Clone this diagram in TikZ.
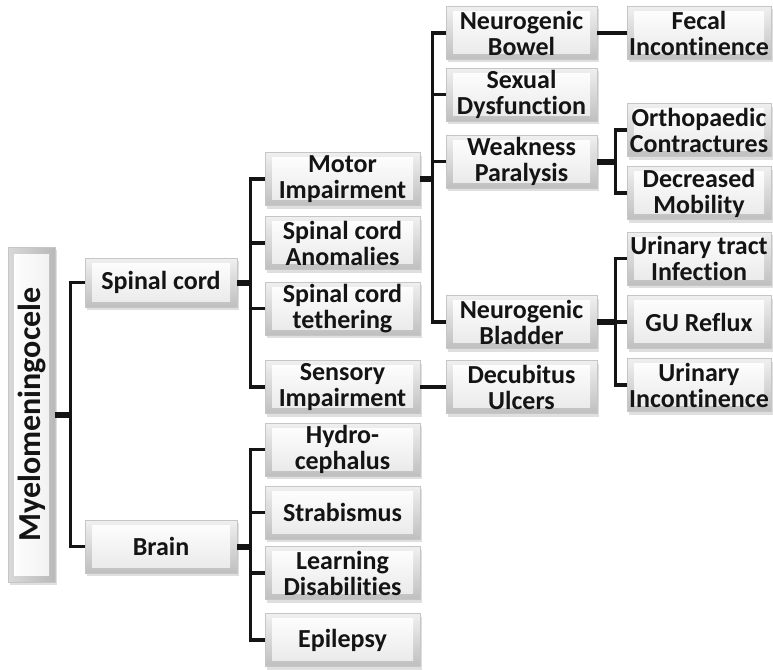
\documentclass[tikz,border=0pt]{standalone}
\usepackage{fontspec}
\setmainfont{Carlito}[Ligatures=NoCommon]
\usetikzlibrary{positioning,shadows,calc}
\definecolor{mmink}{RGB}{20,20,20}
\tikzset{
  bevbox/.style={rectangle,draw=gray!45,line width=0.5pt,
                 top color=gray!12,bottom color=gray!50,
                 minimum width=155pt,minimum height=53pt,inner sep=1pt,
                 font=\fontsize{26}{26}\selectfont\bfseries,align=center,text=mmink,
                 drop shadow={shadow xshift=2pt,shadow yshift=-3pt,opacity=0.25},
                 path picture={\shade[top color=white,bottom color=gray!18]
                   ([shift={(7pt,6pt)}]path picture bounding box.south west) rectangle
                   ([shift={(-7pt,-5pt)}]path picture bounding box.north east);}},
  rootbox/.style={rectangle,draw=gray!45,line width=0.5pt,
                 left color=gray!30,right color=gray!55,
                 minimum width=47pt,minimum height=335pt,inner sep=1pt,
                 font=\fontsize{32}{32}\selectfont\bfseries,text=mmink,
                 drop shadow={shadow xshift=2pt,shadow yshift=-3pt,opacity=0.25},
                 path picture={\shade[left color=white,right color=gray!12]
                   ([shift={(6pt,7pt)}]path picture bounding box.south west) rectangle
                   ([shift={(-6pt,-7pt)}]path picture bounding box.north east);}},
  conn/.style={line width=3.2pt,mmink},
  stub/.style={line width=6pt,mmink},
}
\begin{document}
\begin{tikzpicture}[x=1pt,y=-1pt]
  \fill[white] (0,0) rectangle (773,669);
  \useasboundingbox (0,0) rectangle (773,669);

  % root and first level
  \node[rootbox] (myelo) at (31.5,414.5) {\rotatebox{90}{Myelomeningocele}};
  \node[bevbox,minimum width=152pt,minimum height=49pt] (spinal) at (161,282.5) {Spinal cord};
  \node[bevbox,minimum width=152pt] (brain) at (161,546.5) {Brain};

  % second level
  \node[bevbox] (motor)   at (342.5,179)   {Motor\\Impairment};
  \node[bevbox] (anomal)  at (342.5,243)   {Spinal cord\\Anomalies};
  \node[bevbox] (tether)  at (342.5,308.5) {Spinal cord\\tethering};
  \node[bevbox] (sensory) at (342.5,387)   {Sensory\\Impairment};
  \node[bevbox] (hydro)   at (342.5,449.5) {Hydro-\\cephalus};
  \node[bevbox] (strab)   at (342.5,512.5) {Strabismus};
  \node[bevbox] (learn)   at (342.5,573)   {Learning\\Disabilities};
  \node[bevbox] (epil)    at (342.5,640)   {Epilepsy};

  % third level
  \node[bevbox,minimum width=151pt] (bowel)  at (521.5,33)    {Neurogenic\\Bowel};
  \node[bevbox,minimum width=151pt] (sexual) at (521.5,94.5)  {Sexual\\Dysfunction};
  \node[bevbox,minimum width=151pt] (weak)   at (521.5,161.5) {Weakness\\Paralysis};
  \node[bevbox,minimum width=151pt] (bladder) at (521.5,322)  {Neurogenic\\Bladder};
  \node[bevbox,minimum width=151pt] (decub)  at (521.5,387)   {Decubitus\\Ulcers};

  % fourth level
  \node[bevbox,minimum width=144pt] (fecal)  at (699,33)    {Fecal\\Incontinence};
  \node[bevbox,minimum width=144pt] (ortho)  at (699,130)   {Orthopaedic\\Contractures};
  \node[bevbox,minimum width=144pt] (mobil)  at (699,193)   {Decreased\\Mobility};
  \node[bevbox,minimum width=144pt] (uti)    at (699,258.5) {Urinary tract\\Infection};
  \node[bevbox,minimum width=144pt] (reflux) at (699,322)   {GU Reflux};
  \node[bevbox,minimum width=144pt] (urinc)  at (699,385)   {Urinary\\Incontinence};

  % connectors
  \foreach \c in {spinal,brain}
    \draw[conn] (myelo.east) -- ++(15,0) |- (\c.west);
  \draw[stub] (myelo.east) -- ++(15,0);
  \foreach \c in {motor,anomal,tether,sensory}
    \draw[conn] (spinal.east) -- ++(13,0) |- (\c.west);
  \draw[stub] (spinal.east) -- ++(13,0);
  \foreach \c in {hydro,strab,learn,epil}
    \draw[conn] (brain.east) -- ++(13,0) |- (\c.west);
  \draw[stub] (brain.east) -- ++(13,0);
  \foreach \c in {bowel,sexual,weak,bladder}
    \draw[conn] (motor.east) -- ++(12,0) |- (\c.west);
  \draw[stub] (motor.east) -- ++(12,0);
  \foreach \c in {ortho,mobil}
    \draw[conn] (weak.east) -- ++(18,0) |- (\c.west);
  \draw[stub] (weak.east) -- ++(18,0);
  \foreach \c in {uti,reflux,urinc}
    \draw[conn] (bladder.east) -- ++(18,0) |- (\c.west);
  \draw[stub] (bladder.east) -- ++(18,0);
  \draw[conn] (sensory.east) -- (decub.west);
  \draw[conn] (bowel.east) -- (fecal.west);
\end{tikzpicture}
\end{document}
